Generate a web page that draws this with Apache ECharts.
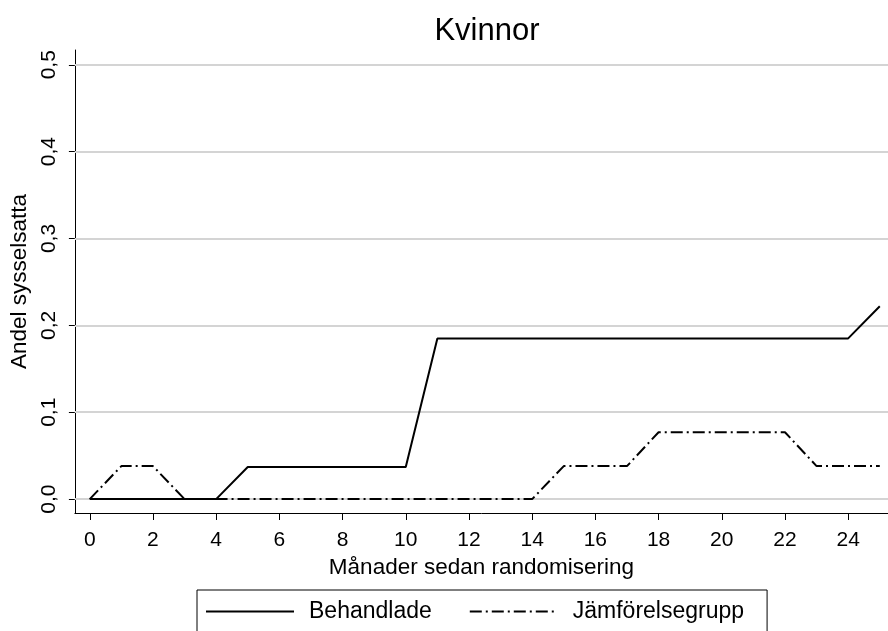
<!DOCTYPE html>
<html>
<head>
<meta charset="utf-8">
<script src="https://cdn.jsdelivr.net/npm/echarts@6/dist/echarts.min.js"></script>
<style>html,body{margin:0;padding:0;background:#fff;}#c{width:888px;height:631px;}</style>
</head>
<body>
<div id="c"></div>
<script>
const months = [0,1,2,3,4,5,6,7,8,9,10,11,12,13,14,15,16,17,18,19,20,21,22,23,24,25];
const behandlade = [0,0,0,0,0,0.037,0.037,0.037,0.037,0.037,0.037,0.185,0.185,0.185,0.185,0.185,0.185,0.185,0.185,0.185,0.185,0.185,0.185,0.185,0.185,0.222];
const jamforelse = [0,0.038,0.038,0,0,0,0,0,0,0,0,0,0,0,0,0.038,0.038,0.038,0.077,0.077,0.077,0.077,0.077,0.038,0.038,0.038];
const xTicks = [0,2,4,6,8,10,12,14,16,18,20,22,24];
const yTicks = [0,0.1,0.2,0.3,0.4,0.5];

const font = 'Liberation Sans, Arial, sans-serif';
const chart = echarts.init(document.getElementById('c'));
chart.setOption({
  animation: false,
  backgroundColor: '#fff',
  title: {text: 'Kvinnor', left: 482, textAlign: 'center', top: 11,
    textStyle: {fontFamily: font, fontSize: 31, fontWeight: 'normal', color: '#000'}},
  grid: {left: 73, right: 0, top: 50, bottom: 118, containLabel: false},
  xAxis: {
    type: 'value', min: -0.47, max: 25.26,
    name: 'Månader sedan randomisering', nameLocation: 'middle', nameGap: 40,
    nameTextStyle: {fontFamily: font, fontSize: 22.5, color: '#000'},
    axisLine: {show: true, onZero: false, lineStyle: {color: '#000', width: 1}},
    axisTick: {show: true, length: 7, customValues: xTicks, lineStyle: {color: '#000'}},
    axisLabel: {customValues: xTicks, fontFamily: font, fontSize: 21, color: '#000', margin: 17},
    splitLine: {show: false}
  },
  yAxis: {
    type: 'value', min: -0.016, max: 0.517,
    name: 'Andel sysselsatta', nameLocation: 'middle', nameGap: 36,
    nameTextStyle: {fontFamily: font, fontSize: 22.5, color: '#000'},
    axisLine: {show: true, onZero: false, lineStyle: {color: '#000', width: 1}},
    axisTick: {show: true, length: 6, customValues: yTicks, lineStyle: {color: '#000'}},
    axisLabel: {customValues: yTicks, rotate: 90, fontFamily: font, fontSize: 21, color: '#000', margin: 15,
      formatter: v => v.toFixed(1).replace('.', ',')},
    splitLine: {show: false}
  },
  legend: {
    data: ['Behandlade', 'Jämförelsegrupp'],
    left: 197, top: 590,
    orient: 'horizontal',
    itemWidth: 88, itemHeight: 14, itemGap: 37,
    padding: [10, 23, 20, 8],
    borderColor: '#000', borderWidth: 1, borderRadius: 0,
    itemStyle: {color: 'rgba(0,0,0,0)', borderWidth: 0, opacity: 0},
    textStyle: {fontFamily: font, fontSize: 23, color: '#000', padding: [0, 0, 0, 10]}
  },
  series: [
    {
      name: 'grid', type: 'line', silent: true, data: [], z: 1,
      markLine: {symbol: 'none', silent: true, label: {show: false}, z: 1,
        lineStyle: {color: '#d4d4d4', width: 2, type: 'solid'},
        data: yTicks.map(v => ({yAxis: v}))}
    },
    {
      name: 'Behandlade', type: 'line', showSymbol: false, symbol: 'none',
      data: months.map((m, i) => [m, behandlade[i]]),
      lineStyle: {color: '#000', width: 2, type: 'solid'},
      itemStyle: {color: '#000'}, z: 5
    },
    {
      name: 'Jämförelsegrupp', type: 'line', showSymbol: false, symbol: 'none',
      data: months.map((m, i) => [m, jamforelse[i]]),
      lineStyle: {color: '#000', width: 2, type: [12, 4, 2, 4]},
      itemStyle: {color: '#000'}, z: 5
    }
  ]
});
</script>
</body>
</html>
